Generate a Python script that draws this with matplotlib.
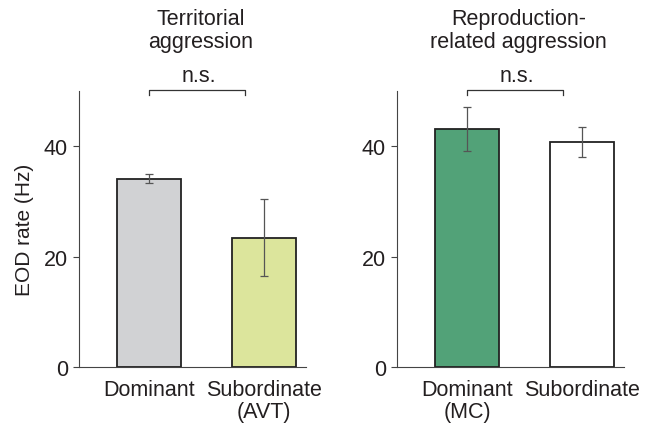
import numpy as np
import matplotlib.pyplot as plt

plt.rcParams['font.family'] = ['Liberation Sans', 'DejaVu Sans']

# panel data
titles = ['Territorial\naggression', 'Reproduction-\nrelated aggression']
labels_left = ['Dominant', 'Subordinate\n(AVT)']
labels_right = ['Dominant\n(MC)', 'Subordinate']
means_left = [34.1, 23.4]
err_left = [0.85, 7.0]
means_right = [43.1, 40.8]
err_right = [4.0, 2.7]
colors_left = ['#d1d2d4', '#dce59c']
colors_right = ['#52a278', '#ffffff']
yticks = [0, 20, 40]

fig = plt.figure(figsize=(6.46, 4.27), dpi=100)
ax1 = fig.add_axes([79/646, 59/427, 227/646, 276/427])
ax2 = fig.add_axes([397/646, 59/427, 227/646, 276/427])

panels = [
    (ax1, titles[0], labels_left, means_left, err_left, colors_left),
    (ax2, titles[1], labels_right, means_right, err_right, colors_right),
]

x = np.arange(2)
for ax, title, labels, means, errs, colors in panels:
    ax.bar(x, means, width=0.557, color=colors, edgecolor='#222222',
           linewidth=1.3, zorder=2)
    ax.errorbar(x, means, yerr=errs, fmt='none', ecolor='#555555',
                elinewidth=0.9, capsize=3, capthick=0.9, zorder=3)
    ax.set_xlim(-0.61, 1.365)
    ax.set_ylim(0, 50)
    ax.set_yticks(yticks)
    ax.set_xticks(x)
    ax.set_xticklabels(labels, fontsize=15.5, linespacing=1.05,
                       color='#231f20')
    ax.tick_params(axis='x', length=0, pad=9)
    ax.tick_params(axis='y', length=4, width=0.8, pad=4, labelsize=15.5,
                   color='#444444', labelcolor='#231f20')
    for s in ['top', 'right']:
        ax.spines[s].set_visible(False)
    for s in ['left', 'bottom']:
        ax.spines[s].set_linewidth(0.8)
        ax.spines[s].set_color('#444444')

    # significance bracket
    yb, tip = 50.2, 1.0
    xb = [0, 0, 0.835, 0.835]
    ax.plot(xb, [yb - tip, yb, yb, yb - tip], color='#333333', lw=0.9,
            clip_on=False)
    ax.text(0.43, 51.8, 'n.s.', ha='center', va='baseline', fontsize=15.5,
            color='#231f20')
    ax.text(0.45, 57.9, title, ha='center', va='baseline', fontsize=15.5,
            linespacing=1.12, color='#231f20')

ax1.set_ylabel('EOD rate (Hz)', fontsize=15, labelpad=7, color='#231f20')

plt.savefig('out.png', dpi=100)
